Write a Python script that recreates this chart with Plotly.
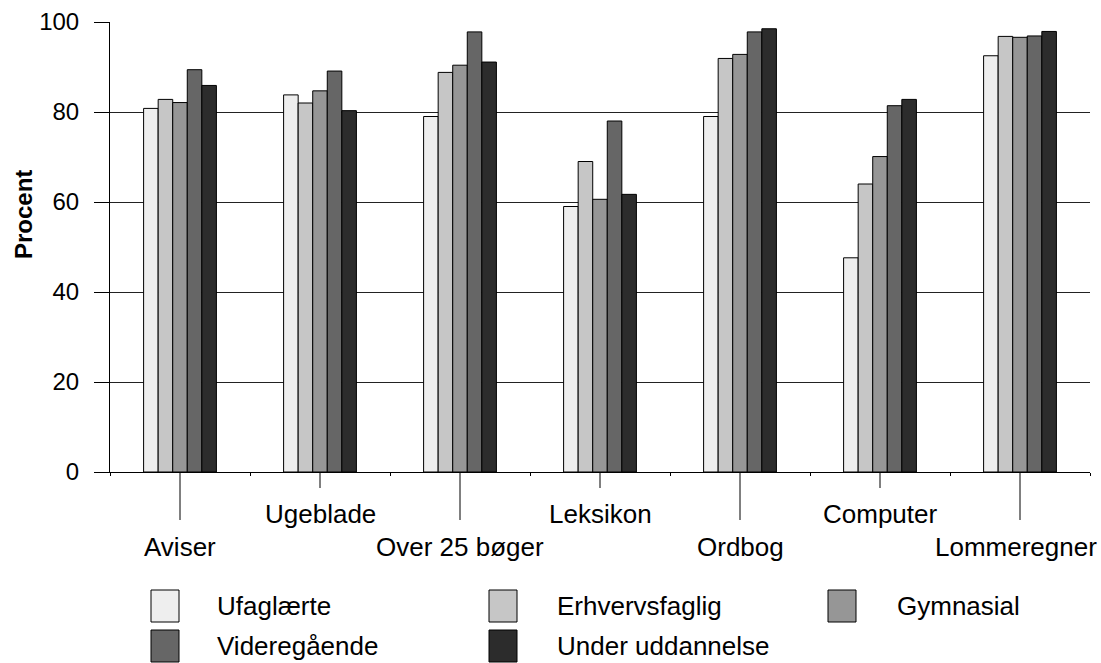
import plotly.graph_objects as go

# Categories of items found in the home
categories = ["Aviser", "Ugeblade", "Over 25 bøger", "Leksikon", "Ordbog", "Computer", "Lommeregner"]

# Share (%) by education group
ufaglaerte = [80.8, 83.8, 79.0, 59.0, 79.0, 47.6, 92.5]
erhvervsfaglig = [82.8, 82.0, 88.8, 69.0, 91.9, 64.0, 96.8]
gymnasial = [82.1, 84.7, 90.4, 60.6, 92.8, 70.1, 96.6]
videregaaende = [89.4, 89.1, 97.8, 78.0, 97.8, 81.4, 96.9]
under_uddannelse = [85.9, 80.3, 91.1, 61.7, 98.5, 82.8, 97.9]

series_names = ["Ufaglærte", "Erhvervsfaglig", "Gymnasial", "Videregående", "Under uddannelse"]
series_values = [ufaglaerte, erhvervsfaglig, gymnasial, videregaaende, under_uddannelse]
series_colors = ["#eeeeee", "#c6c6c6", "#969696", "#666666", "#2c2c2c"]

y_ticks = [0, 20, 40, 60, 80, 100]

FONT = "Liberation Sans, Arial, sans-serif"
W, H = 1101, 663
L, R, T, B = 110, 11, 22, 191
PW, PH = W - L - R, H - T - B


def px_x(px):
    return (px - L) / PW


def px_y(py):
    return (H - B - py) / PH


fig = go.Figure()
for name, vals, col in zip(series_names, series_values, series_colors):
    fig.add_trace(go.Bar(
        x=categories, y=vals, name=name,
        marker=dict(color=col, line=dict(color="#000000", width=1)),
        showlegend=False,
    ))

shapes = []
annotations = []

# Category tick lines and staggered labels (last label nudged to stay on the page)
for i, cat in enumerate(categories):
    low = i % 2 == 0
    shapes.append(dict(type="line", xref="x", yref="paper",
                       x0=cat, x1=cat, y0=0, y1=px_y(520 if low else 488),
                       line=dict(color="#000000", width=1)))
    annotations.append(dict(xref="x", yref="paper", x=cat, y=px_y(547 if low else 514),
                            text=cat, showarrow=False, xanchor="center", yanchor="middle",
                            xshift=-4 if i == len(categories) - 1 else 0,
                            font=dict(family=FONT, size=26, color="#000000")))

# Axis title
annotations.append(dict(xref="paper", yref="paper", x=px_x(23), y=px_y(215),
                        text="<b>Procent</b>", textangle=-90, showarrow=False,
                        xanchor="center", yanchor="middle",
                        font=dict(family=FONT, size=24, color="#000000")))

# Legend drawn as swatches with labels, three per row
col_swatch = [151, 489, 828]
col_text = [215, 555, 895]
row_top = [590, 630]
sw_w, sw_h = 28, 32
for k, (name, col) in enumerate(zip(series_names, series_colors)):
    r, c = divmod(k, 3)
    x0 = col_swatch[c]
    y0 = row_top[r]
    shapes.append(dict(type="rect", xref="paper", yref="paper",
                       x0=px_x(x0), x1=px_x(x0 + sw_w), y0=px_y(y0), y1=px_y(y0 + sw_h),
                       fillcolor=col, line=dict(color="#000000", width=1)))
    annotations.append(dict(xref="paper", yref="paper", x=px_x(col_text[c]),
                            y=px_y(y0 + sw_h / 2), text=name, showarrow=False,
                            xanchor="left", yanchor="middle",
                            font=dict(family=FONT, size=26, color="#000000")))

fig.update_layout(
    width=W, height=H,
    margin=dict(l=L, r=R, t=T, b=B, pad=0, autoexpand=False),
    paper_bgcolor="#ffffff", plot_bgcolor="#ffffff",
    barmode="group", bargap=0.48, bargroupgap=0,
    font=dict(family=FONT, size=24, color="#000000"),
    shapes=shapes, annotations=annotations,
    showlegend=False,
)
fig.update_xaxes(
    type="category", categoryorder="array", categoryarray=categories,
    range=[-0.5, len(categories) - 0.5],
    showticklabels=False, ticks="outside", tickson="boundaries", ticklen=3,
    tickcolor="#000000", showline=True, linecolor="#000000", linewidth=1,
    showgrid=False, zeroline=False, automargin=False,
)
fig.update_yaxes(
    range=[0, 100], tickvals=y_ticks, ticks="outside", ticklen=15, tickcolor="#000000",
    showline=True, linecolor="#000000", linewidth=1,
    showgrid=True, gridcolor="#222222", gridwidth=1, zeroline=False,
    ticklabelstandoff=10, automargin=False,
    tickfont=dict(family=FONT, size=24, color="#000000"),
)

fig.write_html("out.html")
